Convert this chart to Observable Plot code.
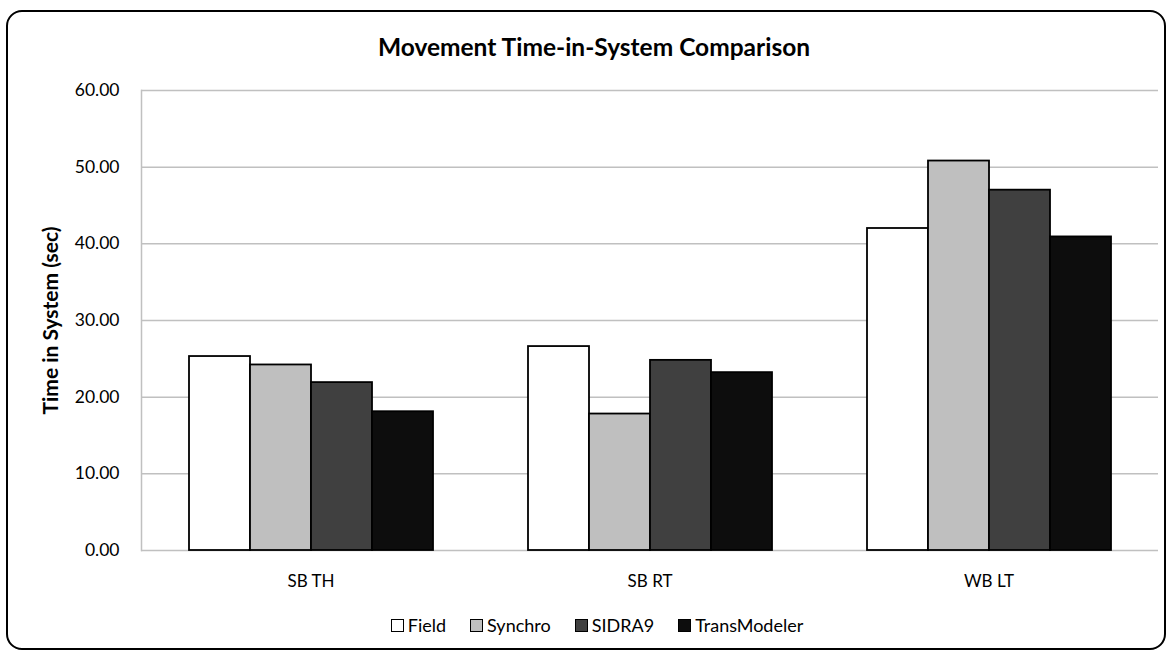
<!DOCTYPE html>
<html>
<head>
<meta charset="utf-8">
<script src="https://cdn.jsdelivr.net/npm/d3@7"></script>
<script src="https://cdn.jsdelivr.net/npm/@observablehq/plot@0.6"></script>
<style>
  html, body { margin: 0; padding: 0; background: #fff; }
  #wrap { position: relative; width: 1174px; height: 652px; overflow: hidden; font-family: Lato, "Open Sans", sans-serif; color: #000; }
  #border { position: absolute; left: 6px; top: 10px; width: 1160px; height: 640px; border: 2px solid #000; border-radius: 16px; box-sizing: border-box; }
  #title { position: absolute; left: 0; width: 1174px; top: 32px; line-height: 30px; text-align: center; font-weight: bold; font-size: 24.5px; padding-left: 14px; box-sizing: border-box; }
  #chart { position: absolute; left: 0; top: 70px; }
  #legend { position: absolute; left: 0; width: 1174px; top: 613px; line-height: 24px; display: flex; justify-content: center; gap: 24px; font-size: 18px; padding-left: 20px; box-sizing: border-box; }
  .item { display: flex; align-items: center; gap: 4px; }
  .sw { width: 13px; height: 13px; border: 1.5px solid #000; box-sizing: border-box; display: inline-block; }
  g[aria-label="y-axis label"] text { font-weight: bold; font-size: 21px; }
</style>
</head>
<body>
<div id="wrap">
  <div id="border"></div>
  <div id="title">Movement Time-in-System Comparison</div>
  <div id="chart"></div>
  <div id="legend"></div>
</div>
<script>
const categories = ["SB TH", "SB RT", "WB LT"];
const series = ["Field", "Synchro", "SIDRA9", "TransModeler"];
const field = [25.3, 26.6, 42.0];
const synchro = [24.2, 17.8, 50.8];
const sidra9 = [21.9, 24.8, 47.0];
const transModeler = [18.1, 23.2, 40.9];
const colors = ["#ffffff", "#bfbfbf", "#404040", "#0d0d0d"];
const yTicks = [0, 10, 20, 30, 40, 50, 60];
const yLabel = "Time in System (sec)";

const seriesValues = [field, synchro, sidra9, transModeler];
const data = categories.flatMap((c, i) =>
  series.map((s, j) => ({category: c, series: s, value: seriesValues[j][i]}))
);

const chart = Plot.plot({
  width: 1174,
  height: 530,
  marginLeft: 140,
  marginRight: 16,
  marginTop: 20,
  marginBottom: 50,
  style: {fontFamily: "Lato, 'Open Sans', sans-serif", fontSize: "17px", color: "#000", background: "transparent", overflow: "visible"},
  fx: {domain: categories, padding: 0, axis: null},
  x: {domain: series, paddingInner: 0, paddingOuter: 0.743, axis: null},
  y: {domain: [0, 60], axis: null},
  color: {domain: series, range: colors},
  marks: [
    Plot.gridY(yTicks, {stroke: "#c0c0c0", strokeOpacity: 1, strokeWidth: 1.5}),
    Plot.frame({anchor: "left", facetAnchor: "left", stroke: "#c0c0c0", strokeWidth: 1.5}),
    Plot.barY(data, {fx: "category", x: "series", y: "value", fill: "series", stroke: "#000", strokeWidth: 1.8}),
    Plot.axisY(yTicks, {tickSize: 0, tickPadding: 22, tickFormat: d => d.toFixed(2), fontSize: 17.5, label: yLabel, labelArrow: false, labelAnchor: "center", labelOffset: 98}),
    Plot.axisFx({anchor: "bottom", tickSize: 0, tickPadding: 24, fontSize: 17, label: null})
  ]
});
document.getElementById("chart").appendChild(chart);

const legend = document.getElementById("legend");
series.forEach((s, i) => {
  const item = document.createElement("div");
  item.className = "item";
  const sw = document.createElement("span");
  sw.className = "sw";
  sw.style.background = colors[i];
  const t = document.createElement("span");
  t.textContent = s;
  item.appendChild(sw);
  item.appendChild(t);
  legend.appendChild(item);
});
</script>
</body>
</html>
